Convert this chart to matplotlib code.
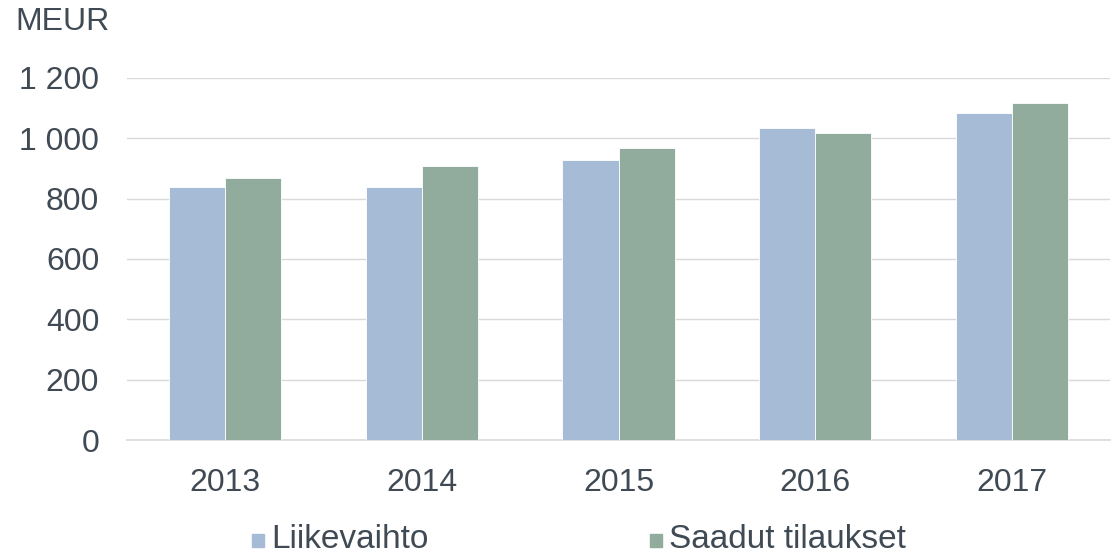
import matplotlib.pyplot as plt
import numpy as np
from matplotlib.patches import Rectangle

years = ['2013', '2014', '2015', '2016', '2017']
liikevaihto = [840, 840, 928, 1035, 1084]
saadut_tilaukset = [868, 908, 967, 1017, 1116]
yticks = [0, 200, 400, 600, 800, 1000, 1200]
ytick_labels = ['0', '200', '400', '600', '800', '1 000', '1 200']

col_l = '#A6BBD6'
col_s = '#91AB9C'
txt = '#404A54'

plt.rcParams['font.family'] = ['Liberation Sans', 'DejaVu Sans']

fig = plt.figure(figsize=(11.19, 5.54), dpi=100)
ax = fig.add_axes([127 / 1119, 1 - 440 / 554, 983 / 1119, 362 / 554])

x = np.arange(len(years))
w = 0.285
ax.bar(x - w / 2, liikevaihto, w, color=col_l, edgecolor='white', linewidth=0.6, zorder=3)
ax.bar(x + w / 2, saadut_tilaukset, w, color=col_s, edgecolor='white', linewidth=0.6, zorder=3)

ax.set_xlim(-0.5, len(years) - 0.5)
ax.set_ylim(0, 1200)
ax.set_yticks(yticks)
ax.set_yticklabels(ytick_labels)
ax.set_xticks(x)
ax.set_xticklabels(years)
ax.grid(axis='y', color='#D9D9D9', linewidth=1, zorder=0)
for s in ['top', 'right', 'left']:
    ax.spines[s].set_visible(False)
ax.spines['bottom'].set_color('#D9D9D9')
ax.spines['bottom'].set_linewidth(1.2)
ax.tick_params(axis='both', length=0, labelsize=23, colors=txt)
ax.tick_params(axis='y', pad=20)
ax.tick_params(axis='x', pad=20)

fig.text(15 / 1119, 1 - 22 / 554, 'MEUR', fontsize=23, color=txt, va='center', ha='left')

# legend
for xs, label, c in [(252, 'Liikevaihto', col_l), (650, 'Saadut tilaukset', col_s)]:
    fig.patches.append(Rectangle((xs / 1119, 1 - 547 / 554), 12 / 1119, 13 / 554,
                                 transform=fig.transFigure, color=c))
    fig.text((xs + 19) / 1119, 1 - 540 / 554, label, fontsize=24, color=txt,
             va='center', ha='left')

fig.savefig('out.png', dpi=100)
